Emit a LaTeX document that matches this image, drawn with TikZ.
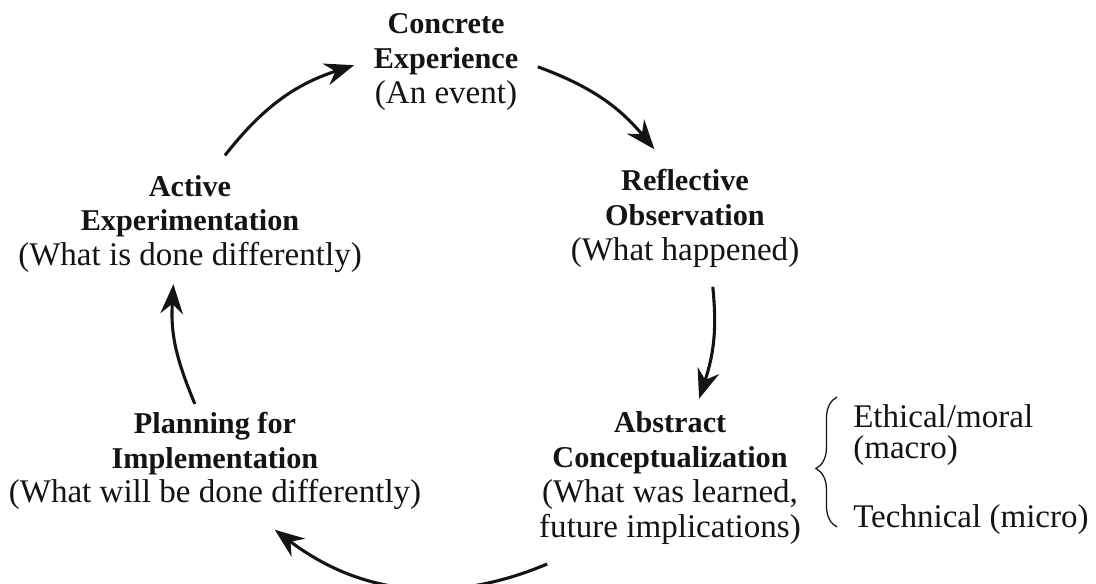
\documentclass[tikz,border=0pt]{standalone}
\usepackage{fontspec}
\setmainfont{Liberation Serif}
\usepackage{tikz}
\usetikzlibrary{arrows.meta, decorations.pathreplacing}
\definecolor{cycleink}{RGB}{20, 20, 20}
\newcommand{\stagehead}[1]{{\fontsize{21.5}{24.8}\selectfont\bfseries #1}}
\tikzset{
  stage/.style={align=center, inner sep=0pt, outer sep=14pt, text=cycleink, font=\fontsize{23.5}{24.8}\selectfont},
  cyclearrow/.style={draw=cycleink, line width=2.2pt, -{Stealth[length=21pt, width=16pt, inset=7pt]}},
  sidenote/.style={inner sep=0pt, align=left, text=cycleink, font=\fontsize{23.5}{22}\selectfont},
  bracemark/.style={draw=cycleink, line width=0.9pt, decorate, decoration={brace, amplitude=15pt, aspect=0.45}}
}
\begin{document}
\begin{tikzpicture}[x=0.025cm, y=-0.025cm]
  \useasboundingbox (0,0) rectangle (1096,584);
  \node[stage] (concrete) at (446,62) {\stagehead{Concrete}\\\stagehead{Experience}\\(An event)};
  \node[stage] (reflect) at (685,218) {\stagehead{Reflective}\\\stagehead{Observation}\\(What happened)};
  \node[stage] (abstract) at (670,478) {\stagehead{Abstract}\\\stagehead{Conceptualization}\\(What was learned,\\future implications)};
  \node[stage] (planning) at (215,461) {\stagehead{Planning for}\\\stagehead{Implementation}\\(What will be done differently)};
  \node[stage] (active) at (190,224) {\stagehead{Active}\\\stagehead{Experimentation}\\(What is done differently)};

  \draw[cyclearrow] (active.63) to[bend left=17] (concrete.182);
  \draw[cyclearrow] (concrete.357) to[bend left=15] (reflect.114);
  \draw[cyclearrow, shorten >=-5pt] (reflect.292) to[bend left=12] (abstract.70);
  \draw[cyclearrow] (abstract.215) to[bend left=30] (planning.311);
  \draw[cyclearrow, shorten <=-9pt, shorten >=-6pt] (planning.110) to[bend left=13] (active.256);

  \node[sidenote, anchor=north west] (ethical) at (853,404) {Ethical/moral\\(macro)};
  \node[sidenote, anchor=base west] (technical) at (853,527) {Technical (micro)};
  \coordinate (bracetop) at (837,397);
  \coordinate (bracebot) at (837,527);
  \draw[bracemark] (bracebot) -- (bracetop);
\end{tikzpicture}
\end{document}
